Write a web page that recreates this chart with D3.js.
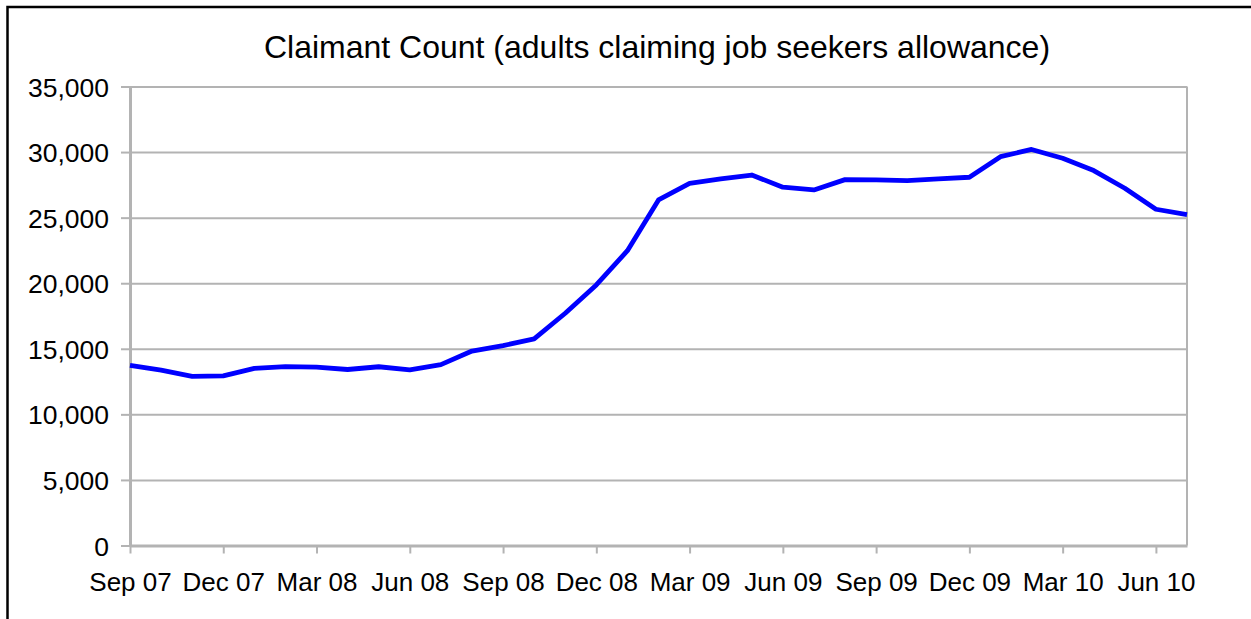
<!DOCTYPE html>
<html>
<head>
<meta charset="utf-8">
<script src="https://cdn.jsdelivr.net/npm/d3@7"></script>
<style>
  html, body { margin: 0; padding: 0; background: #fff; }
  svg { display: block; font-family: "Liberation Sans", Arial, sans-serif; }
</style>
</head>
<body>
<svg id="chart" width="1251" height="619"></svg>
<script>
// Monthly claimant count, Sep 2007 – Jul 2010
const months = [
  "Sep 07","Oct 07","Nov 07","Dec 07","Jan 08","Feb 08","Mar 08","Apr 08","May 08",
  "Jun 08","Jul 08","Aug 08","Sep 08","Oct 08","Nov 08","Dec 08","Jan 09","Feb 09",
  "Mar 09","Apr 09","May 09","Jun 09","Jul 09","Aug 09","Sep 09","Oct 09","Nov 09",
  "Dec 09","Jan 10","Feb 10","Mar 10","Apr 10","May 10","Jun 10","Jul 10"
];
const claimants = [
  13740, 13370, 12900, 12940, 13500, 13640, 13600, 13420, 13630,
  13390, 13790, 14830, 15240, 15750, 17710, 19870, 22480, 26350,
  27620, 27950, 28250, 27320, 27110, 27900, 27880, 27820, 27950,
  28080, 29650, 30200, 29530, 28590, 27240, 25640, 25230
];
const labelledMonths = months.filter((m, i) => i % 3 === 0);
const yTicks = [0, 5000, 10000, 15000, 20000, 25000, 30000, 35000];
const title = "Claimant Count (adults claiming job seekers allowance)";

const svg = d3.select("#chart");
const plotLeft = 130, plotRight = 1187, plotTop = 86.5, plotBottom = 545.5;
const grey = "#b3b3b3";

// outer chart frame (extends past the right and bottom edges)
svg.append("rect")
  .attr("x", 7.5).attr("y", 7).attr("width", 1300).attr("height", 700)
  .attr("fill", "none").attr("stroke", "#000").attr("stroke-width", 2.5);

const x = d3.scalePoint().domain(months).range([plotLeft, plotRight]).padding(0);
const y = d3.scaleLinear().domain([0, 35000]).range([plotBottom, plotTop]);

// horizontal gridlines
svg.append("g")
  .attr("transform", `translate(${plotLeft},0)`)
  .call(d3.axisLeft(y).tickValues(yTicks).tickSize(-(plotRight - plotLeft)).tickFormat(""))
  .call(g => g.select(".domain").remove())
  .call(g => g.selectAll(".tick line").attr("stroke", grey).attr("stroke-width", 2));

// right edge of plot area
svg.append("line")
  .attr("x1", plotRight).attr("x2", plotRight).attr("y1", plotTop).attr("y2", plotBottom)
  .attr("stroke", grey).attr("stroke-width", 2);

// y axis
svg.append("g")
  .attr("transform", `translate(${plotLeft},0)`)
  .call(d3.axisLeft(y).tickValues(yTicks).tickSize(9).tickPadding(12).tickSizeOuter(0).tickFormat(d3.format(",")))
  .call(g => g.select(".domain").attr("stroke", grey).attr("stroke-width", 3))
  .call(g => g.selectAll(".tick line").attr("stroke", grey).attr("stroke-width", 2))
  .call(g => g.selectAll(".tick text")
    .attr("fill", "#000").attr("font-size", "26.5px").attr("dy", "0.36em")
    .attr("font-family", "Liberation Sans, Arial, sans-serif"));

// x axis
svg.append("g")
  .attr("transform", `translate(0,${plotBottom})`)
  .call(d3.axisBottom(x).tickValues(labelledMonths).tickSize(8).tickPadding(19).tickSizeOuter(0))
  .call(g => g.select(".domain").attr("stroke", grey).attr("stroke-width", 3))
  .call(g => g.selectAll(".tick line").attr("stroke", grey).attr("stroke-width", 2))
  .call(g => g.selectAll(".tick text")
    .attr("fill", "#000").attr("font-size", "26px")
    .attr("font-family", "Liberation Sans, Arial, sans-serif"));

// series line
svg.append("path")
  .datum(claimants)
  .attr("fill", "none")
  .attr("stroke", "#0000ff")
  .attr("stroke-width", 4.8)
  .attr("stroke-linejoin", "round")
  .attr("d", d3.line().x((d, i) => x(months[i])).y(d => y(d)));

// title
svg.append("text")
  .attr("x", 657).attr("y", 58)
  .attr("text-anchor", "middle")
  .attr("font-size", "32px")
  .attr("fill", "#000")
  .text(title);
</script>
</body>
</html>
